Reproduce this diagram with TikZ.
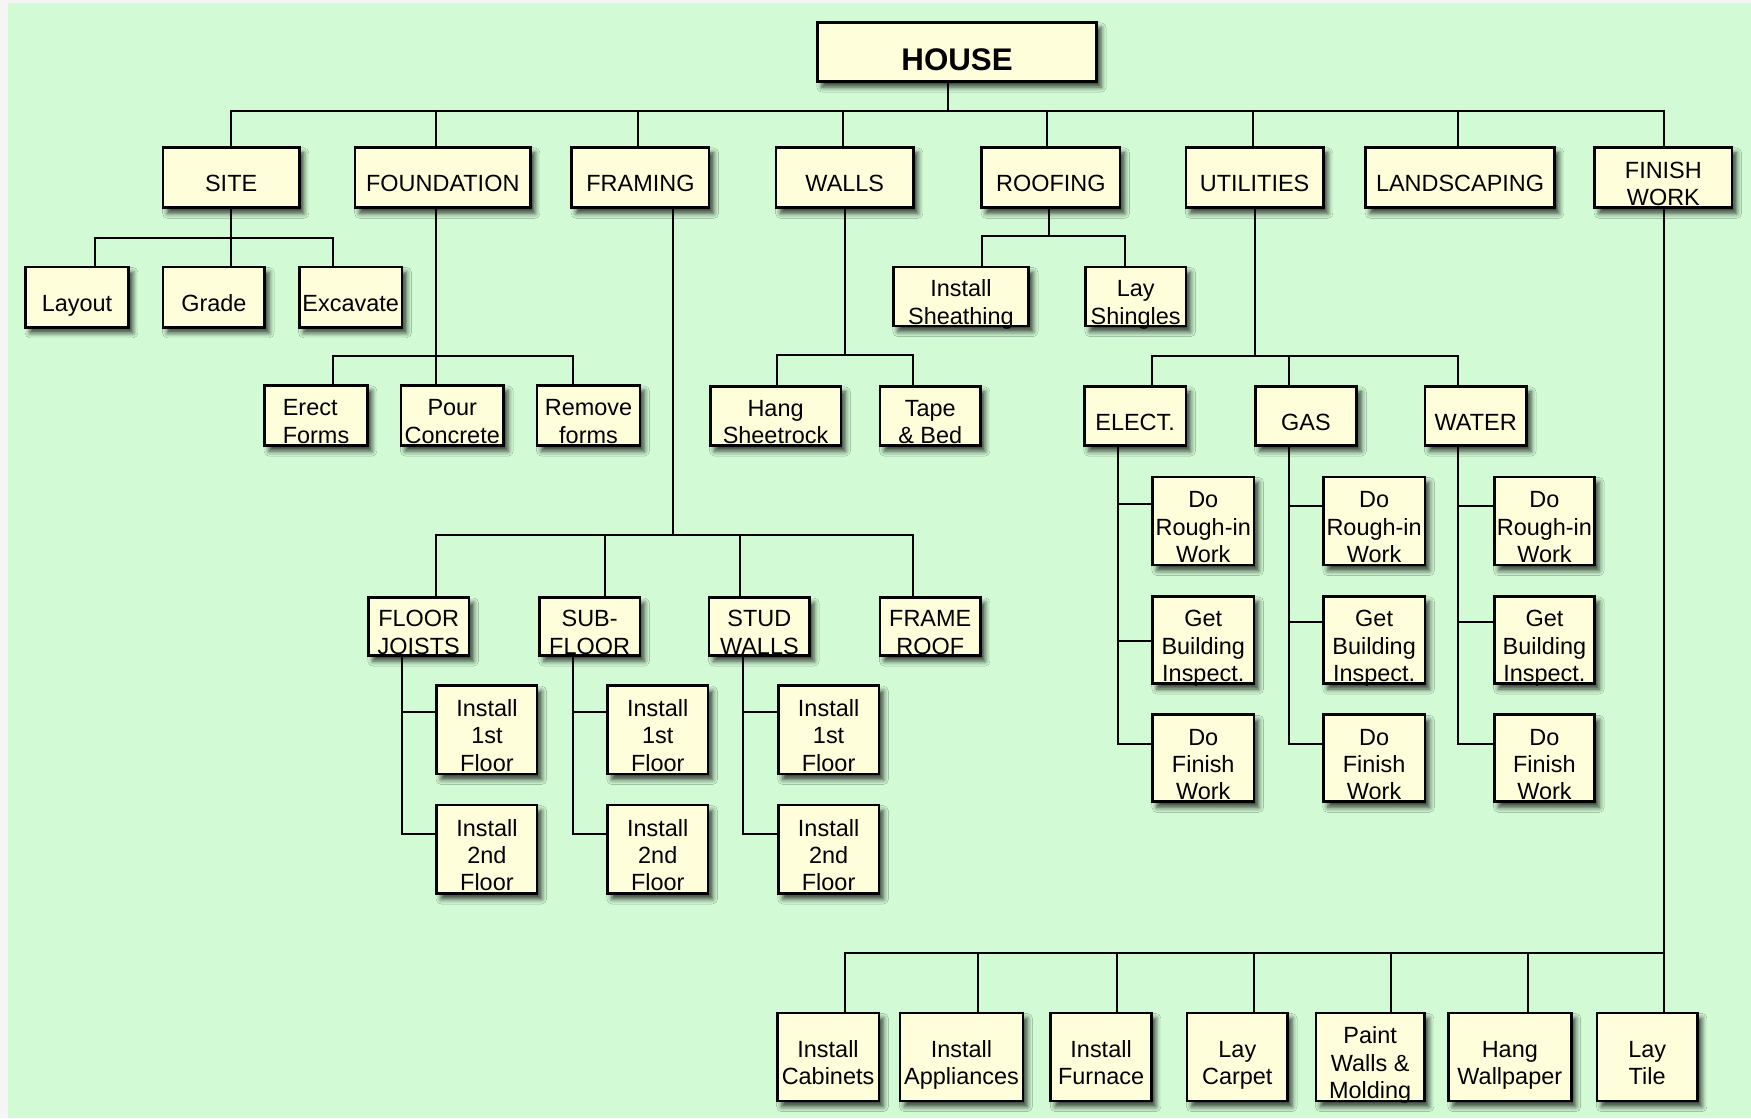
\documentclass[tikz,border=0pt]{standalone}
\usepackage{fontspec}
\setmainfont{Liberation Sans}
\usepackage{tikz}
\usetikzlibrary{shadows.blur}

\begin{document}
\begin{tikzpicture}[x=1pt,y=-1pt,
  box/.style={draw=black,line width=2.4pt,fill=boxcream,inner sep=0pt,align=center,
    font=\fontsize{21}{24.5}\selectfont,text height=25.3pt,text depth=0pt,
    blur shadow={shadow xshift=4pt,shadow yshift=-5pt,shadow blur radius=4.5pt,shadow opacity=75}},
  tworows/.style={text height=49.8pt},
  threerows/.style={text height=74.3pt},
  link/.style={line width=1.8pt,line cap=rect}]
% Define colors
\definecolor{bggreen}{RGB}{210,251,213}
\definecolor{boxcream}{RGB}{255,254,218}

% Draw background
\useasboundingbox (0,0) rectangle (1568,1001.2);
\fill[gray!8] (0,0) rectangle (1568,1001.2);
\fill[bggreen] (7,3) rectangle (1568,1001.2);

% Draw top level
\node[box,minimum width=250pt,minimum height=53pt,text height=33pt,font=\fontsize{28}{32}\selectfont\bfseries] (house) at (857,46.5) {HOUSE};

% Draw main tasks
\node[box,minimum width=122pt,minimum height=54pt] (site) at (207,159) {SITE};
\node[box,minimum width=157pt,minimum height=54pt] (foundation) at (396.5,159) {FOUNDATION};
\node[box,minimum width=123pt,minimum height=54pt] (framing) at (573.5,159) {FRAMING};
\node[box,minimum width=123pt,minimum height=54pt] (walls) at (756.5,159) {WALLS};
\node[box,minimum width=124pt,minimum height=54pt] (roofing) at (941,159) {ROOFING};
\node[box,minimum width=123pt,minimum height=54pt] (utilities) at (1123.5,159) {UTILITIES};
\node[box,minimum width=169pt,minimum height=54pt] (landscaping) at (1307.5,159) {LANDSCAPING};
\node[box,tworows,minimum width=123pt,minimum height=54pt] (finish) at (1489.5,159) {FINISH\\WORK};

% Site tasks
\node[box,minimum width=92pt,minimum height=54pt] (layout) at (69,266) {Layout};
\node[box,minimum width=91pt,minimum height=54pt] (grade) at (191.5,266) {Grade};
\node[box,minimum width=92pt,minimum height=54pt] (excavate) at (314,266) {Excavate};

% Foundation tasks
\node[box,tworows,minimum width=92pt,minimum height=54pt,align=left] (erect) at (283,372) {Erect\\Forms};
\node[box,tworows,minimum width=92pt,minimum height=54pt] (pour) at (405,372) {Pour\\Concrete};
\node[box,tworows,minimum width=92pt,minimum height=54pt] (remove) at (527,372) {Remove\\forms};

% Framing tasks
\node[box,tworows,minimum width=90pt,minimum height=52pt] (joists) at (375,561) {FLOOR\\JOISTS};
\node[box,tworows,minimum width=90pt,minimum height=52pt] (subfloor) at (528,561) {SUB-\\FLOOR};
\node[box,tworows,minimum width=90pt,minimum height=52pt] (stud) at (680,561) {STUD\\WALLS};
\node[box,tworows,minimum width=90pt,minimum height=52pt] (frameroof) at (833,561) {FRAME\\ROOF};
\node[box,threerows,minimum width=90pt,minimum height=79pt] (jst1) at (436,653.5) {Install\\1st\\Floor};
\node[box,threerows,minimum width=90pt,minimum height=79pt] (jst2) at (436,760.5) {Install\\2nd\\Floor};
\node[box,threerows,minimum width=90pt,minimum height=79pt] (sub1) at (589,653.5) {Install\\1st\\Floor};
\node[box,threerows,minimum width=90pt,minimum height=79pt] (sub2) at (589,760.5) {Install\\2nd\\Floor};
\node[box,threerows,minimum width=90pt,minimum height=79pt] (stud1) at (742,653.5) {Install\\1st\\Floor};
\node[box,threerows,minimum width=90pt,minimum height=79pt] (stud2) at (742,760.5) {Install\\2nd\\Floor};

% Walls tasks
\node[box,tworows,minimum width=117pt,minimum height=53pt] (hang) at (694.5,372.5) {Hang\\Sheetrock};
\node[box,tworows,minimum width=90pt,minimum height=53pt] (tape) at (833,372.5) {Tape\\\& Bed};

% Roofing tasks
\node[box,tworows,minimum width=121pt,minimum height=53pt] (sheathing) at (860.5,265.5) {Install\\Sheathing};
\node[box,tworows,minimum width=90pt,minimum height=53pt] (shingles) at (1017,265.5) {Lay\\Shingles};

% Utilities tasks
\node[box,minimum width=91pt,minimum height=53pt] (elect) at (1016.5,372.5) {ELECT.};
\node[box,minimum width=91pt,minimum height=53pt] (gas) at (1169.5,372.5) {GAS};
\node[box,minimum width=91pt,minimum height=53pt] (water) at (1321.5,372.5) {WATER};
\node[box,threerows,minimum width=91pt,minimum height=79pt] (el1) at (1077.5,466.5) {Do\\Rough-in\\Work};
\node[box,threerows,minimum width=91pt,minimum height=78pt] (el2) at (1077.5,573) {Get\\Building\\Inspect.};
\node[box,threerows,minimum width=91pt,minimum height=78pt] (el3) at (1077.5,679) {Do\\Finish\\Work};
\node[box,threerows,minimum width=91pt,minimum height=79pt] (ga1) at (1230.5,466.5) {Do\\Rough-in\\Work};
\node[box,threerows,minimum width=91pt,minimum height=78pt] (ga2) at (1230.5,573) {Get\\Building\\Inspect.};
\node[box,threerows,minimum width=91pt,minimum height=78pt] (ga3) at (1230.5,679) {Do\\Finish\\Work};
\node[box,threerows,minimum width=90pt,minimum height=79pt] (wa1) at (1383,466.5) {Do\\Rough-in\\Work};
\node[box,threerows,minimum width=90pt,minimum height=78pt] (wa2) at (1383,573) {Get\\Building\\Inspect.};
\node[box,threerows,minimum width=90pt,minimum height=78pt] (wa3) at (1383,679) {Do\\Finish\\Work};

% Finish work tasks
\node[box,tworows,minimum width=91pt,minimum height=79pt] (cabinets) at (741.5,946.5) {Install\\Cabinets};
\node[box,tworows,minimum width=110pt,minimum height=79pt] (appliances) at (861,946.5) {Install\\Appliances};
\node[box,tworows,minimum width=90pt,minimum height=79pt] (furnace) at (986,946.5) {Install\\Furnace};
\node[box,tworows,minimum width=90pt,minimum height=79pt] (carpet) at (1108,946.5) {Lay\\Carpet};
\node[box,threerows,minimum width=97pt,minimum height=79pt] (paint) at (1227,946.5) {Paint\\Walls \&\\Molding};
\node[box,tworows,minimum width=110pt,minimum height=79pt] (wallpaper) at (1352,946.5) {Hang\\Wallpaper};
\node[box,tworows,minimum width=90pt,minimum height=79pt] (tile) at (1475,946.5) {Lay\\Tile};

% Connect house to main tasks
\coordinate (house-out) at (849,99);
\coordinate (site-in) at (207,99);
\coordinate (foundation-in) at (390,99);
\coordinate (framing-in) at (571,99);
\coordinate (walls-in) at (755,99);
\coordinate (roofing-in) at (938,99);
\coordinate (utilities-in) at (1122,99);
\coordinate (landscaping-in) at (1306,99);
\coordinate (finish-in) at (1490,99);
\draw[link] (house.south -| house-out) -- (house-out);
\draw[link] (site-in) -- (finish-in);
\draw[link] (site-in) -- (site-in |- site.north);
\draw[link] (foundation-in) -- (foundation-in |- foundation.north);
\draw[link] (framing-in) -- (framing-in |- framing.north);
\draw[link] (walls-in) -- (walls-in |- walls.north);
\draw[link] (roofing-in) -- (roofing-in |- roofing.north);
\draw[link] (utilities-in) -- (utilities-in |- utilities.north);
\draw[link] (landscaping-in) -- (landscaping-in |- landscaping.north);
\draw[link] (finish-in) -- (finish-in |- finish.north);

% Site links
\coordinate (site-out) at (207,213);
\coordinate (layout-in) at (85,213);
\coordinate (excavate-in) at (298,213);
\draw[link] (site.south -| site-out) -- (site-out);
\draw[link] (layout-in) -- (excavate-in);
\draw[link] (layout-in) -- (layout-in |- layout.north);
\draw[link] (site-out) -- (site-out |- grade.north);
\draw[link] (excavate-in) -- (excavate-in |- excavate.north);

% Foundation links
\coordinate (foundation-out) at (390,319);
\coordinate (erect-in) at (298,319);
\coordinate (remove-in) at (513,319);
\draw[link] (foundation.south -| foundation-out) -- (foundation-out);
\draw[link] (erect-in) -- (remove-in);
\draw[link] (erect-in) -- (erect-in |- erect.north);
\draw[link] (foundation-out) -- (foundation-out |- pour.north);
\draw[link] (remove-in) -- (remove-in |- remove.north);

% Framing links
\coordinate (framing-out) at (603,479);
\coordinate (joists-in) at (390,479);
\coordinate (subfloor-in) at (542,479);
\coordinate (stud-in) at (663,479);
\coordinate (frameroof-in) at (818,479);
\draw[link] (framing.south -| framing-out) -- (framing-out);
\draw[link] (joists-in) -- (frameroof-in);
\draw[link] (joists-in) -- (joists-in |- joists.north);
\draw[link] (subfloor-in) -- (subfloor-in |- subfloor.north);
\draw[link] (stud-in) -- (stud-in |- stud.north);
\draw[link] (frameroof-in) -- (frameroof-in |- frameroof.north);
\coordinate (jst1-in) at (360,638);
\coordinate (jst2-in) at (360,747);
\coordinate (sub1-in) at (513,638);
\coordinate (sub2-in) at (513,747);
\coordinate (stud1-in) at (665,638);
\coordinate (stud2-in) at (665,747);
\draw[link] (joists.south -| jst1-in) -- (jst2-in);
\draw[link] (jst1-in) -- (jst1-in -| jst1.west);
\draw[link] (jst2-in) -- (jst2-in -| jst2.west);
\draw[link] (subfloor.south -| sub1-in) -- (sub2-in);
\draw[link] (sub1-in) -- (sub1-in -| sub1.west);
\draw[link] (sub2-in) -- (sub2-in -| sub2.west);
\draw[link] (stud.south -| stud1-in) -- (stud2-in);
\draw[link] (stud1-in) -- (stud1-in -| stud1.west);
\draw[link] (stud2-in) -- (stud2-in -| stud2.west);

% Walls links
\coordinate (walls-out) at (757,318);
\coordinate (hang-in) at (696,318);
\coordinate (tape-in) at (818,318);
\draw[link] (walls.south -| walls-out) -- (walls-out);
\draw[link] (hang-in) -- (tape-in);
\draw[link] (hang-in) -- (hang-in |- hang.north);
\draw[link] (tape-in) -- (tape-in |- tape.north);

% Roofing links
\coordinate (roofing-out) at (939,211);
\coordinate (sheathing-in) at (879,211);
\coordinate (shingles-in) at (1007,211);
\draw[link] (roofing.south -| roofing-out) -- (roofing-out);
\draw[link] (sheathing-in) -- (shingles-in);
\draw[link] (sheathing-in) -- (sheathing-in |- sheathing.north);
\draw[link] (shingles-in) -- (shingles-in |- shingles.north);

% Utilities links
\coordinate (utilities-out) at (1124,319);
\coordinate (elect-in) at (1032,319);
\coordinate (gas-in) at (1154,319);
\coordinate (water-in) at (1306,319);
\draw[link] (utilities.south -| utilities-out) -- (utilities-out);
\draw[link] (elect-in) -- (water-in);
\draw[link] (elect-in) -- (elect-in |- elect.north);
\draw[link] (gas-in) -- (gas-in |- gas.north);
\draw[link] (water-in) -- (water-in |- water.north);
\coordinate (el1-in) at (1001,451);
\coordinate (el2-in) at (1001,574);
\coordinate (el3-in) at (1001,666);
\coordinate (ga1-in) at (1154,453);
\coordinate (ga2-in) at (1154,557);
\coordinate (ga3-in) at (1154,666);
\coordinate (wa1-in) at (1306,453);
\coordinate (wa2-in) at (1306,557);
\coordinate (wa3-in) at (1306,666);
\draw[link] (elect.south -| el1-in) -- (el3-in);
\draw[link] (el1-in) -- (el1-in -| el1.west);
\draw[link] (el2-in) -- (el2-in -| el2.west);
\draw[link] (el3-in) -- (el3-in -| el3.west);
\draw[link] (gas.south -| ga1-in) -- (ga3-in);
\draw[link] (ga1-in) -- (ga1-in -| ga1.west);
\draw[link] (ga2-in) -- (ga2-in -| ga2.west);
\draw[link] (ga3-in) -- (ga3-in -| ga3.west);
\draw[link] (water.south -| wa1-in) -- (wa3-in);
\draw[link] (wa1-in) -- (wa1-in -| wa1.west);
\draw[link] (wa2-in) -- (wa2-in -| wa2.west);
\draw[link] (wa3-in) -- (wa3-in -| wa3.west);

% Finish work links
\coordinate (finish-out) at (1490,853);
\coordinate (cabinets-in) at (757,853);
\coordinate (appliances-in) at (876,853);
\coordinate (furnace-in) at (1000,853);
\coordinate (carpet-in) at (1123,853);
\coordinate (paint-in) at (1246,853);
\coordinate (wallpaper-in) at (1368,853);
\draw[link] (finish.south -| finish-out) -- (finish-out |- tile.north);
\draw[link] (cabinets-in) -- (finish-out);
\draw[link] (cabinets-in) -- (cabinets-in |- cabinets.north);
\draw[link] (appliances-in) -- (appliances-in |- appliances.north);
\draw[link] (furnace-in) -- (furnace-in |- furnace.north);
\draw[link] (carpet-in) -- (carpet-in |- carpet.north);
\draw[link] (paint-in) -- (paint-in |- paint.north);
\draw[link] (wallpaper-in) -- (wallpaper-in |- wallpaper.north);
\end{tikzpicture}
\end{document}
